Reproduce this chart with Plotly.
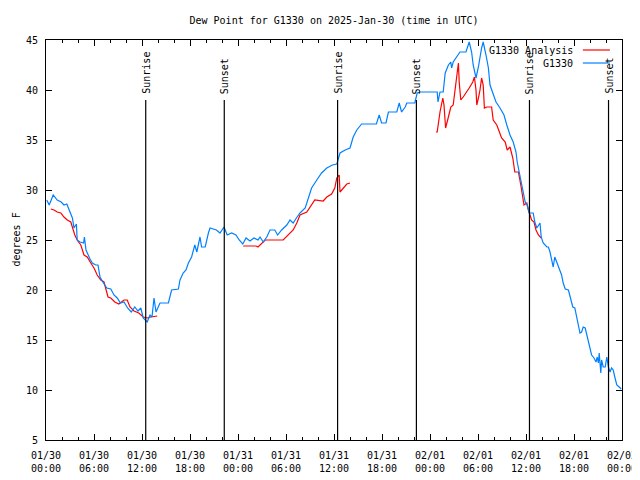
import pandas as pd
import plotly.graph_objects as go

base = pd.Timestamp("2025-01-30 00:00")

# G1330 observations: hours since 01/30 00:00 UTC, dew point (F)
obs_hours = [0.1, 0.4, 0.9, 1.4, 1.9, 2.25, 2.6, 2.9, 3.3, 3.5, 3.8, 3.9, 4.25, 4.7, 4.8, 5.0, 5.15,
             5.5, 5.8, 6.2, 6.5, 6.75, 7.1, 7.6, 8.1, 8.5, 8.9, 9.3, 9.75, 10.2, 10.65, 11.1, 11.5,
             11.85, 12.15, 12.65, 13.0, 13.25, 13.5, 13.75, 14.25, 15.3, 15.7, 16.55, 16.75, 17.15,
             17.5, 17.8, 18.2, 18.6, 18.85, 19.25, 19.45, 19.9, 20.3, 20.5, 21.3, 21.75, 22.25, 22.65,
             23.2, 23.75, 24.15, 24.6, 25.0, 25.5, 26.0, 26.5, 26.75, 27.15, 27.6, 28.0, 28.6, 28.95,
             29.45, 30.1, 30.5, 30.9, 31.3, 31.75, 32.4, 32.8, 33.2, 33.85, 34.45, 35.1, 35.8, 36.35,
             36.75, 37.4, 38.0, 38.4, 38.85, 39.45, 41.3, 41.65, 41.95, 42.5, 42.8, 43.85, 44.15,
             44.45, 44.9, 45.1, 46.1, 46.4, 46.75, 48.9, 49.0, 49.25, 49.65, 49.9, 50.3, 50.6, 50.7,
             50.9, 51.75, 52.5, 52.9, 53.2, 53.4, 53.75, 54.05, 54.45, 54.65, 55.0, 55.3, 55.5, 55.9,
             56.25, 56.75, 57.25, 57.6, 58.0, 58.4, 58.75, 58.9, 59.25, 59.45, 59.65, 59.9, 60.15,
             60.4, 60.9, 61.1, 61.35, 61.55, 61.75, 61.9, 62.15, 62.6, 62.8, 63.0, 63.4, 63.6, 63.85,
             64.15, 64.45, 64.65, 64.9, 65.3, 65.5, 65.85, 66.1, 66.35, 66.55, 66.75, 66.95, 67.15,
             67.4, 67.65, 67.9, 68.2, 68.5, 68.75, 68.9, 69.05, 69.15, 69.35, 69.45, 69.65, 69.9,
             70.1, 70.3, 70.5, 70.7, 70.9, 71.1, 71.35, 71.65, 71.9]
obs_dewpt = [29.0, 28.5, 29.5, 29.0, 28.8, 28.5, 28.6, 28.0, 27.2, 26.2, 26.6, 25.0, 24.8, 24.7, 25.3,
             24.0, 23.7, 23.1, 22.7, 22.5, 22.5, 21.3, 20.8, 20.2, 20.1, 19.5, 19.2, 18.7, 18.8, 18.2,
             17.8, 18.3, 17.9, 18.2, 17.2, 16.8, 17.5, 17.3, 19.2, 17.8, 18.7, 18.7, 20.0, 20.1, 21.0,
             21.7, 22.0, 22.7, 23.3, 24.5, 23.8, 25.3, 24.3, 24.3, 25.7, 26.2, 26.0, 25.7, 26.3, 25.5,
             25.7, 25.5, 25.0, 24.6, 25.2, 24.9, 25.2, 25.0, 25.3, 24.8, 25.3, 26.0, 26.0, 25.5, 26.0,
             26.5, 27.0, 26.7, 27.2, 27.7, 28.2, 29.2, 30.2, 31.0, 31.7, 32.2, 32.5, 32.6, 33.7, 34.0,
             34.2, 35.3, 36.0, 36.6, 36.6, 37.5, 36.7, 36.7, 37.8, 37.8, 38.7, 37.8, 38.3, 38.7, 38.7,
             39.7, 39.8, 39.8, 38.8, 39.8, 39.8, 41.7, 42.5, 42.8, 42.2, 42.8, 43.8, 43.8, 44.8, 43.8,
             42.5, 41.2, 42.3, 44.2, 44.8, 43.5, 42.2, 40.5, 39.7, 38.8, 38.2, 37.5, 36.5, 35.5, 34.8,
             33.8, 32.8, 31.3, 30.5, 29.5, 28.8, 28.5, 27.7, 27.7, 26.8, 26.2, 26.5, 26.7, 25.3, 24.7,
             24.3, 24.3, 23.8, 22.3, 23.3, 22.8, 22.2, 21.5, 20.7, 20.1, 20.0, 19.3, 18.3, 18.2, 17.2,
             16.3, 15.7, 15.8, 16.3, 16.2, 15.3, 14.7, 13.5, 13.2, 12.8, 13.3, 12.7, 13.7, 11.7, 13.0,
             12.3, 12.3, 13.3, 12.3, 11.8, 12.2, 12.0, 11.3, 10.5, 10.3, 10.1]

# G1330 analysis (three separate runs, gaps as None)
ana_hours = [0.6, 1.0, 1.4, 1.85, 2.25, 2.65, 3.1, 3.3, 3.6, 3.9, 4.35, 4.75, 5.15, 5.6, 6.0, 6.4,
             6.85, 7.25, 7.45, 7.75, 8.1, 8.6, 9.1, 9.75, 10.15, 10.5, 11.0, 11.6, 12.15, 12.65,
             13.1, 13.9, None,
             24.65, 26.25, 26.5, 27.4, 29.65, 30.3, 30.9, 31.35, 31.75, 32.6, 33.0, 33.6, 34.65,
             35.1, 35.7, 36.1, 36.35, 36.65, 36.75, 37.15, 37.6, 38.0, None,
             48.75, 48.9, 49.25, 49.6, 49.75, 49.95, 50.3, 50.6, 50.9, 51.1, 51.4, 51.55, 51.65,
             51.85, 52.15, 52.6, 52.9, 53.35, 53.55, 53.75, 53.85, 54.05, 54.25, 54.45, 54.65,
             54.8, 55.1, 55.7, 55.9, 56.35, 56.75, 56.95, 57.4, 57.65, 58.0, 58.35, 58.6, 59.05,
             59.35, 59.6, 59.75, 60.1, 60.3, 60.7, 61.0, 61.25, 61.55, 61.9]
ana_dewpt = [28.1, 28.0, 27.8, 27.7, 27.3, 27.0, 26.8, 26.3, 25.5, 25.0, 24.5, 23.5, 23.3, 22.7,
             22.2, 21.5, 21.0, 20.8, 20.2, 19.3, 19.2, 18.8, 18.6, 19.0, 19.0, 18.3, 17.9, 17.7,
             17.3, 17.2, 17.3, 17.4, None,
             24.4, 24.4, 24.3, 25.0, 25.0, 25.5, 26.0, 26.7, 27.5, 27.8, 28.3, 29.0, 28.9, 29.3,
             29.6, 30.2, 31.2, 31.5, 29.8, 30.2, 30.6, 30.7, None,
             35.8, 35.8, 37.8, 39.2, 38.5, 36.2, 37.3, 38.3, 38.5, 39.8, 42.0, 42.7, 40.8, 39.0,
             39.3, 39.8, 40.2, 40.8, 41.3, 40.0, 38.5, 39.2, 40.0, 41.2, 40.5, 38.2, 38.3, 38.3,
             37.0, 36.5, 35.5, 35.2, 34.8, 34.0, 34.3, 33.2, 31.8, 31.8, 30.5, 29.2, 28.5, 28.7,
             28.0, 27.0, 26.8, 26.0, 25.5, 25.2]

event_times = ["2025-01-30 12:28", "2025-01-30 22:17", "2025-01-31 12:27",
               "2025-01-31 22:18", "2025-02-01 12:26", "2025-02-01 22:19"]
event_labels = ["Sunrise", "Sunset", "Sunrise", "Sunset", "Sunrise", "Sunset"]


def to_time(hours):
    return [None if h is None else base + pd.Timedelta(hours=h) for h in hours]


FONT = "DejaVu Sans Mono"
FS = 10
# the page body has an 8px margin, so the figure is 8px smaller and offset
W, H = 632, 472
L, R, T, B = 38, 18, 32, 40
fig = go.Figure()
fig.add_trace(go.Scatter(x=to_time(ana_hours), y=ana_dewpt, mode="lines",
                         line=dict(color="#ff0000", width=1.2), connectgaps=False,
                         name="G1330 Analysis", showlegend=False))
fig.add_trace(go.Scatter(x=to_time(obs_hours), y=obs_dewpt, mode="lines",
                         line=dict(color="#0080ff", width=1.2), name="G1330", showlegend=False))

for t, lab in zip(event_times, event_labels):
    fig.add_shape(type="line", x0=t, x1=t, y0=5, y1=39, xref="x", yref="y",
                  line=dict(color="black", width=1.2))
    fig.add_annotation(x=t, y=39, xref="x", yref="y", text=lab, textangle=-90,
                       showarrow=False, xanchor="center", yanchor="bottom", yshift=4,
                       font=dict(family=FONT, size=FS, color="black"))

# gnuplot-style legend (text left of sample line)
legend_items = [("G1330 Analysis", "#ff0000", 0.975), ("G1330", "#0080ff", 0.9425)]
for text, col, yp in legend_items:
    fig.add_annotation(x=0.918, y=yp, xref="paper", yref="paper", text=text, showarrow=False,
                       xanchor="right", yanchor="middle", font=dict(family=FONT, size=FS, color="black"))
    fig.add_shape(type="line", x0=0.932, x1=0.979, y0=yp, y1=yp, xref="paper", yref="paper",
                  line=dict(color=col, width=1.2))

fig.add_annotation(x=-L / (W - L - R), y=0.5, xref="paper", yref="paper", text="degrees F",
                   textangle=-90, showarrow=False, xanchor="left", yanchor="middle",
                   font=dict(family=FONT, size=FS, color="black"))

fig.update_layout(
    width=W, height=H,
    margin=dict(l=L, r=R, t=T, b=B, autoexpand=False),
    paper_bgcolor="white", plot_bgcolor="white",
    title=dict(text="Dew Point for G1330 on 2025-Jan-30 (time in UTC)", x=0.5, xref="paper",
               xanchor="center", y=1 - 12 / H, yref="container", yanchor="middle",
               automargin=False, font=dict(family=FONT, size=FS, color="black")),
    font=dict(family=FONT, size=FS, color="black"),
    showlegend=False,
)
fig.update_xaxes(range=["2025-01-30 00:00", "2025-02-02 00:00"], type="date", automargin=False,
                 dtick=6 * 3600 * 1000, tick0="2025-01-30 00:00", tickformat="%m/%d\n%H:%M",
                 ticks="inside", ticklen=6, tickcolor="black", showgrid=False, zeroline=False,
                 showline=True, linecolor="black", linewidth=1, mirror="ticks",
                 minor=dict(dtick=2 * 3600 * 1000, ticks="inside", ticklen=3, tickcolor="black",
                            showgrid=False),
                 ticklabelstandoff=6, tickfont=dict(family=FONT, size=FS, color="black"))
fig.update_yaxes(range=[5, 45], dtick=5, ticks="inside", ticklen=6, tickcolor="black",
                 showgrid=False, zeroline=False, showline=True, linecolor="black", linewidth=1,
                 mirror="ticks", ticklabelstandoff=5, automargin=False,
                 tickfont=dict(family=FONT, size=FS, color="black"))

fig.write_html("out.html")
